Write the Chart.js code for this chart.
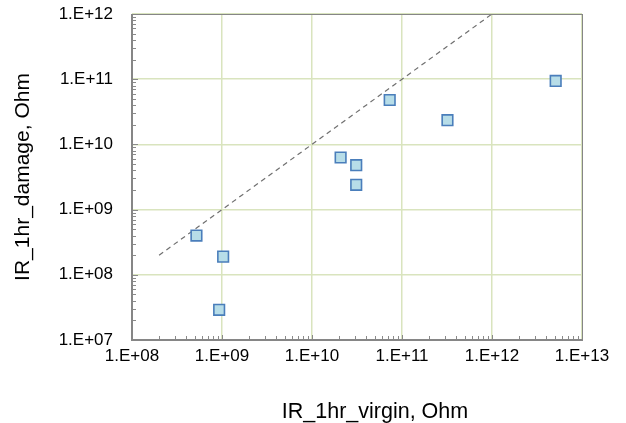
<!DOCTYPE html>
<html>
<head>
<meta charset="utf-8">
<script src="https://cdn.jsdelivr.net/npm/chart.js@4"></script>
<style>
html,body{margin:0;padding:0;background:#fff;}
#wrap{width:626px;height:423px;position:relative;}
</style>
</head>
<body>
<div id="wrap"><canvas id="c" width="626" height="423"></canvas></div>
<script>
// Data
const virgin = [5.2e8, 1.03e9, 9.3e8, 2.08e10, 3.1e10, 3.1e10, 7.3e10, 3.2e11, 5.1e12];
const damage = [4.0e8, 1.9e8, 2.9e7, 6.3e9, 4.8e9, 2.4e9, 4.8e10, 2.35e10, 9.4e10];
const refLineX = [2e8, 1e12];
const refLineY = [2e8, 1e12];
const xDecades = [1e8, 1e9, 1e10, 1e11, 1e12, 1e13];
const yDecades = [1e7, 1e8, 1e9, 1e10, 1e11, 1e12];
const xTitle = 'IR_1hr_virgin, Ohm';
const yTitle = 'IR_1hr_damage, Ohm';

const FONT = "'Liberation Sans', Arial, sans-serif";

function fmt(v){
  const e = Math.round(Math.log10(v));
  return '1.E+' + (e < 10 ? '0' + e : '' + e);
}

const frame = {
  id: 'frame',
  afterDatasetsDraw(chart){
    const ctx = chart.ctx, a = chart.chartArea;
    const xs = chart.scales.x, ys = chart.scales.y;
    ctx.save();
    ctx.strokeStyle = '#8a8a8a';
    ctx.lineWidth = 1;
    for (let i = 0; i < xDecades.length; i++){
      const d = xDecades[i];
      for (let m = 1; m <= 9; m++){
        const v = d * m;
        if (v > xDecades[xDecades.length-1]) break;
        const px = Math.round(xs.getPixelForValue(v)) + 0.5;
        const len = m === 1 ? 5 : 4;
        ctx.beginPath(); ctx.moveTo(px, a.bottom); ctx.lineTo(px, a.bottom - len); ctx.stroke();
      }
    }
    for (let i = 0; i < yDecades.length; i++){
      const d = yDecades[i];
      for (let m = 1; m <= 9; m++){
        const v = d * m;
        if (v > yDecades[yDecades.length-1]) break;
        const py = Math.round(ys.getPixelForValue(v)) + 0.5;
        const len = m === 1 ? 6 : 4;
        ctx.beginPath(); ctx.moveTo(a.left, py); ctx.lineTo(a.left + len, py); ctx.stroke();
      }
    }
    ctx.strokeStyle = '#868686';
    ctx.lineWidth = 1;
    ctx.strokeRect(a.left + 0.5, a.top + 0.5, a.right - a.left, a.bottom - a.top);
    ctx.lineWidth = 2;
    ctx.beginPath();
    ctx.moveTo(a.left, a.top); ctx.lineTo(a.left, a.bottom); ctx.lineTo(a.right + 1, a.bottom);
    ctx.stroke();
    // x-axis title (offset to the right like the original)
    ctx.fillStyle = '#000';
    ctx.font = '21.5px ' + FONT;
    ctx.textAlign = 'center';
    ctx.textBaseline = 'alphabetic';
    ctx.fillText(xTitle, (a.left + a.right) / 2 + 18, 418);
    ctx.restore();
  }
};

new Chart(document.getElementById('c'), {
  type: 'scatter',
  data: {
    datasets: [
      {
        label: 'data',
        data: virgin.map((v, i) => ({x: v, y: damage[i]})),
        pointStyle: 'rect',
        pointRadius: 7.5,
        pointHoverRadius: 7.5,
        backgroundColor: '#b7dde8',
        borderColor: '#4a7ebb',
        borderWidth: 1.6,
        order: 1
      },
      {
        label: 'y=x',
        type: 'line',
        data: refLineX.map((v, i) => ({x: v, y: refLineY[i]})),
        borderColor: '#6f6f6f',
        borderWidth: 1.2,
        borderDash: [5, 4],
        pointRadius: 0,
        fill: false,
        order: 2
      }
    ]
  },
  options: {
    responsive: false,
    animation: false,
    devicePixelRatio: 1,
    layout: {padding: {left: 10, right: 44, top: 14, bottom: 0}},
    plugins: {legend: {display: false}, tooltip: {enabled: false}},
    scales: {
      x: {
        type: 'logarithmic',
        min: 1e8, max: 1e13,
        afterBuildTicks(s){ s.ticks = xDecades.map(v => ({value: v, major: true})); },
        afterFit(s){ s.height = 83; s.paddingLeft = 0; s.paddingRight = 0; },
        border: {display: false},
        grid: {color: '#d9e4be', lineWidth: 1.5, drawTicks: false},
        ticks: {
          autoSkip: false, maxRotation: 0, padding: 6,
          color: '#000', font: {family: FONT, size: 17},
          callback: (v) => fmt(v)
        },
        title: {display: false}
      },
      y: {
        type: 'logarithmic',
        min: 1e7, max: 1e12,
        afterBuildTicks(s){ s.ticks = yDecades.map(v => ({value: v, major: true})); },
        afterFit(s){ s.width = 122; s.paddingTop = 0; s.paddingBottom = 0; },
        border: {display: false},
        grid: {color: '#d9e4be', lineWidth: 1.5, drawTicks: false},
        ticks: {
          autoSkip: false, padding: 19,
          color: '#000', font: {family: FONT, size: 17},
          callback: (v) => fmt(v)
        },
        title: {display: true, text: yTitle, color: '#000', font: {family: FONT, size: 21}, padding: {top: 1, bottom: 0}}
      }
    }
  },
  plugins: [frame]
});
</script>
</body>
</html>
